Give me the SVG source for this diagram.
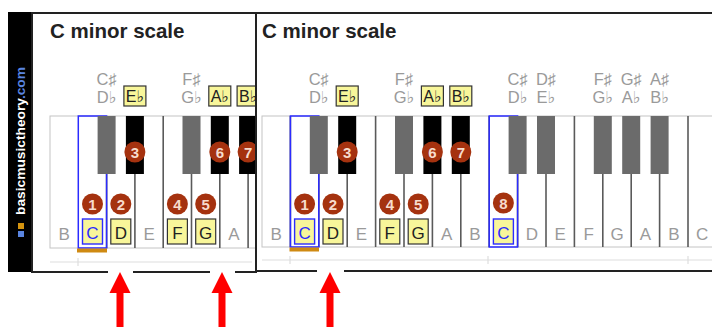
<svg xmlns="http://www.w3.org/2000/svg" width="712" height="327" viewBox="0 0 712 327">
<defs>
<style>
.panel{fill:#fff;stroke:#222;stroke-width:2}
.title{font-family:"Liberation Sans",Arial,sans-serif;font-weight:bold;font-size:20.5px;fill:#222}
.kb{fill:#fff;stroke:#c4c4c4;stroke-width:1}
.sep{stroke:#5a5a5a;stroke-width:1.6}
.bk{fill:#000}
.bkg{fill:#6b6b6b}
.hl{fill:none;stroke:#2b2bff;stroke-width:1.5}
.bar{fill:#cf8a12}
.base{stroke:#dedede;stroke-width:1.2}
.lab{font-family:"Liberation Sans","DejaVu Sans",sans-serif;font-size:16.5px;fill:#9a9a9a;text-anchor:middle}
.wl{font-family:"Liberation Sans",sans-serif;font-size:17px;fill:#9a9a9a;text-anchor:middle}
.box{fill:#f8f69a;stroke:#333;stroke-width:1.2}
.cbox{fill:#f8f69a;stroke:#2b2bff;stroke-width:1.4}
.bt{font-family:"Liberation Sans","DejaVu Sans",sans-serif;font-size:16px;fill:#222;text-anchor:middle}
.ct{font-family:"Liberation Sans",sans-serif;font-size:17px;fill:#2b2bff;text-anchor:middle}
.dt{font-family:"Liberation Sans",sans-serif;font-size:17px;fill:#222;text-anchor:middle}
.num{fill:#a5320f}
.nt{font-family:"Liberation Sans",sans-serif;font-weight:bold;font-size:15px;fill:#f7dccd;text-anchor:middle}
.arrow{fill:#ff0000}
</style>
</defs>
<rect width="712" height="327" fill="#fff"/>

<g id="logo-strip">
<rect x="8" y="12" width="24" height="260" fill="#000"/>
<text transform="translate(24.5,215) rotate(-90)" font-family="Liberation Sans,sans-serif" font-weight="bold" font-size="13.5" textLength="148" lengthAdjust="spacingAndGlyphs"><tspan fill="#fff">basicmusictheory</tspan><tspan fill="#5a85e0">.com</tspan></text>
<rect x="18" y="223" width="6" height="6" fill="#d4930f"/>
<rect x="18" y="231" width="6" height="6" fill="#5a85e0"/>
</g>

<g id="panel-left">
<rect class="panel" x="32" y="13" width="224" height="259"/>
<text class="title" x="50" y="38">C minor scale</text>
<rect class="kb" x="50" y="116" width="210" height="132"/>
<g id="left-separators">
<line class="sep" x1="106.6" y1="116" x2="106.6" y2="248"/>
<line class="sep" x1="134.9" y1="116" x2="134.9" y2="248"/>
<line class="sep" x1="163.2" y1="116" x2="163.2" y2="248" stroke-width="2.2"/>
<line class="sep" x1="191.5" y1="116" x2="191.5" y2="248"/>
<line class="sep" x1="219.8" y1="116" x2="219.8" y2="248"/>
<line class="sep" x1="248.1" y1="116" x2="248.1" y2="248"/>
</g>
<rect class="hl" x="78.3" y="116" width="28.3" height="132"/>
<g id="left-black-keys">
<rect class="bkg" x="97.6" y="116" width="18" height="58"/>
<rect class="bk" x="125.9" y="116" width="18" height="58"/>
<rect class="bkg" x="182.5" y="116" width="18" height="58"/>
<rect class="bk" x="210.8" y="116" width="18" height="58"/>
<rect class="bk" x="239.1" y="116" width="18" height="58"/>
</g>
<rect class="bar" x="77" y="248.5" width="30" height="4"/>
<line class="base" x1="50" y1="262" x2="252" y2="262"/>
<line class="base" x1="78" y1="258" x2="78" y2="266"/>
<g id="left-top-labels">
<text class="lab" x="106.6" y="85">C♯</text>
<text class="lab" x="106.6" y="103">D♭</text>
<rect class="box" x="123.9" y="86" width="22" height="20"/>
<text class="bt" x="134.9" y="102">E♭</text>
<text class="lab" x="191.5" y="85">F♯</text>
<text class="lab" x="191.5" y="103">G♭</text>
<rect class="box" x="208.8" y="86" width="22" height="20"/>
<text class="bt" x="219.8" y="102">A♭</text>
<rect class="box" x="237.1" y="86" width="22" height="20"/>
<text class="bt" x="248.1" y="102">B♭</text>
</g>
<g id="left-key-labels">
<text class="wl" x="64.2" y="240">B</text>
<rect class="cbox" x="82.5" y="219" width="20" height="25"/>
<text class="ct" x="92.5" y="239">C</text>
<rect class="box" x="110.8" y="219" width="20" height="25"/>
<text class="dt" x="120.8" y="239">D</text>
<text class="wl" x="149.1" y="240">E</text>
<rect class="box" x="167.4" y="219" width="20" height="25"/>
<text class="dt" x="177.4" y="239">F</text>
<rect class="box" x="195.7" y="219" width="20" height="25"/>
<text class="dt" x="205.7" y="239">G</text>
<text class="wl" x="234" y="240">A</text>
</g>
<g id="left-degrees">
<circle class="num" cx="92.5" cy="204" r="10.5"/><text class="nt" x="92.5" y="209.5">1</text>
<circle class="num" cx="120.8" cy="204" r="10.5"/><text class="nt" x="120.8" y="209.5">2</text>
<circle class="num" cx="134.9" cy="152" r="10.5"/><text class="nt" x="134.9" y="157.5">3</text>
<circle class="num" cx="177.4" cy="204" r="10.5"/><text class="nt" x="177.4" y="209.5">4</text>
<circle class="num" cx="205.7" cy="204" r="10.5"/><text class="nt" x="205.7" y="209.5">5</text>
<circle class="num" cx="219.8" cy="152" r="10.5"/><text class="nt" x="219.8" y="157.5">6</text>
<circle class="num" cx="248.1" cy="152" r="10.5"/><text class="nt" x="248.1" y="157.5">7</text>
</g>
</g>

<g id="panel-right">
<rect class="panel" x="256" y="13" width="470" height="258"/>
<text class="title" x="262" y="38">C minor scale</text>
<rect class="kb" x="262" y="116" width="460" height="131"/>
<g id="right-separators">
<line class="sep" x1="290.4" y1="116" x2="290.4" y2="247"/>
<line class="sep" x1="318.8" y1="116" x2="318.8" y2="247"/>
<line class="sep" x1="347.2" y1="116" x2="347.2" y2="247"/>
<line class="sep" x1="375.6" y1="116" x2="375.6" y2="247" stroke-width="2.2"/>
<line class="sep" x1="404" y1="116" x2="404" y2="247"/>
<line class="sep" x1="432.4" y1="116" x2="432.4" y2="247"/>
<line class="sep" x1="460.8" y1="116" x2="460.8" y2="247"/>
<line class="sep" x1="489.2" y1="116" x2="489.2" y2="247"/>
<line class="sep" x1="517.6" y1="116" x2="517.6" y2="247"/>
<line class="sep" x1="546" y1="116" x2="546" y2="247"/>
<line class="sep" x1="574.4" y1="116" x2="574.4" y2="247" stroke-width="2.2"/>
<line class="sep" x1="602.8" y1="116" x2="602.8" y2="247"/>
<line class="sep" x1="631.2" y1="116" x2="631.2" y2="247"/>
<line class="sep" x1="659.6" y1="116" x2="659.6" y2="247"/>
<line class="sep" x1="688" y1="116" x2="688" y2="247" stroke-width="2.2"/>
</g>
<rect class="hl" x="290.4" y="116" width="28.4" height="131"/>
<rect class="hl" x="489.2" y="116" width="28.4" height="131"/>
<g id="right-black-keys">
<rect class="bkg" x="309.8" y="116" width="18" height="58"/>
<rect class="bk" x="338.2" y="116" width="18" height="58"/>
<rect class="bkg" x="395" y="116" width="18" height="58"/>
<rect class="bk" x="423.4" y="116" width="18" height="58"/>
<rect class="bk" x="451.8" y="116" width="18" height="58"/>
<rect class="bkg" x="508.6" y="116" width="18" height="58"/>
<rect class="bkg" x="537" y="116" width="18" height="58"/>
<rect class="bkg" x="593.8" y="116" width="18" height="58"/>
<rect class="bkg" x="622.2" y="116" width="18" height="58"/>
<rect class="bkg" x="650.6" y="116" width="18" height="58"/>
</g>
<rect class="bar" x="289.5" y="247.5" width="29.5" height="4"/>
<line class="base" x1="262" y1="260" x2="712" y2="260"/>
<line class="base" x1="290" y1="256" x2="290" y2="264"/>
<line class="base" x1="488" y1="256" x2="488" y2="264"/>
<line class="base" x1="688" y1="256" x2="688" y2="264"/>
<g id="right-top-labels">
<text class="lab" x="318.8" y="85">C♯</text>
<text class="lab" x="318.8" y="103">D♭</text>
<rect class="box" x="336.2" y="86" width="22" height="20"/>
<text class="bt" x="347.2" y="102">E♭</text>
<text class="lab" x="404" y="85">F♯</text>
<text class="lab" x="404" y="103">G♭</text>
<rect class="box" x="421.4" y="86" width="22" height="20"/>
<text class="bt" x="432.4" y="102">A♭</text>
<rect class="box" x="449.8" y="86" width="22" height="20"/>
<text class="bt" x="460.8" y="102">B♭</text>
<text class="lab" x="517.6" y="85">C♯</text>
<text class="lab" x="517.6" y="103">D♭</text>
<text class="lab" x="546" y="85">D♯</text>
<text class="lab" x="546" y="103">E♭</text>
<text class="lab" x="602.8" y="85">F♯</text>
<text class="lab" x="602.8" y="103">G♭</text>
<text class="lab" x="631.2" y="85">G♯</text>
<text class="lab" x="631.2" y="103">A♭</text>
<text class="lab" x="659.6" y="85">A♯</text>
<text class="lab" x="659.6" y="103">B♭</text>
</g>
<g id="right-key-labels">
<text class="wl" x="276.2" y="240">B</text>
<rect class="cbox" x="294.6" y="219" width="20" height="25"/>
<text class="ct" x="304.6" y="239">C</text>
<rect class="box" x="323" y="219" width="20" height="25"/>
<text class="dt" x="333" y="239">D</text>
<text class="wl" x="361.4" y="240">E</text>
<rect class="box" x="379.8" y="219" width="20" height="25"/>
<text class="dt" x="389.8" y="239">F</text>
<rect class="box" x="408.2" y="219" width="20" height="25"/>
<text class="dt" x="418.2" y="239">G</text>
<text class="wl" x="446.6" y="240">A</text>
<text class="wl" x="475" y="240">B</text>
<rect class="cbox" x="493.4" y="219" width="20" height="25"/>
<text class="ct" x="503.4" y="239">C</text>
<text class="wl" x="531.8" y="240">D</text>
<text class="wl" x="560.2" y="240">E</text>
<text class="wl" x="588.6" y="240">F</text>
<text class="wl" x="617" y="240">G</text>
<text class="wl" x="645.4" y="240">A</text>
<text class="wl" x="673.8" y="240">B</text>
<text class="wl" x="702.2" y="240">C</text>
</g>
<g id="right-degrees">
<circle class="num" cx="304.6" cy="204" r="10.5"/><text class="nt" x="304.6" y="209.5">1</text>
<circle class="num" cx="333" cy="204" r="10.5"/><text class="nt" x="333" y="209.5">2</text>
<circle class="num" cx="347.2" cy="152" r="10.5"/><text class="nt" x="347.2" y="157.5">3</text>
<circle class="num" cx="389.8" cy="204" r="10.5"/><text class="nt" x="389.8" y="209.5">4</text>
<circle class="num" cx="418.2" cy="204" r="10.5"/><text class="nt" x="418.2" y="209.5">5</text>
<circle class="num" cx="432.4" cy="152" r="10.5"/><text class="nt" x="432.4" y="157.5">6</text>
<circle class="num" cx="460.8" cy="152" r="10.5"/><text class="nt" x="460.8" y="157.5">7</text>
<circle class="num" cx="503.4" cy="203" r="10.5"/><text class="nt" x="503.4" y="208.5">8</text>
</g>
</g>

<g id="arrows">
<rect x="108" y="266" width="25" height="61" fill="#fff"/>
<polygon class="arrow" points="120,272 130.5,293 123.5,293 123.5,327 116.5,327 116.5,293 109.5,293"/>
<rect x="210" y="266" width="25" height="61" fill="#fff"/>
<polygon class="arrow" points="222,272 232.5,293 225.5,293 225.5,327 218.5,327 218.5,293 211.5,293"/>
<rect x="317" y="266" width="27" height="61" fill="#fff"/>
<polygon class="arrow" points="330,272 340.5,293 333.5,293 333.5,327 326.5,327 326.5,293 319.5,293"/>
</g>
</svg>
